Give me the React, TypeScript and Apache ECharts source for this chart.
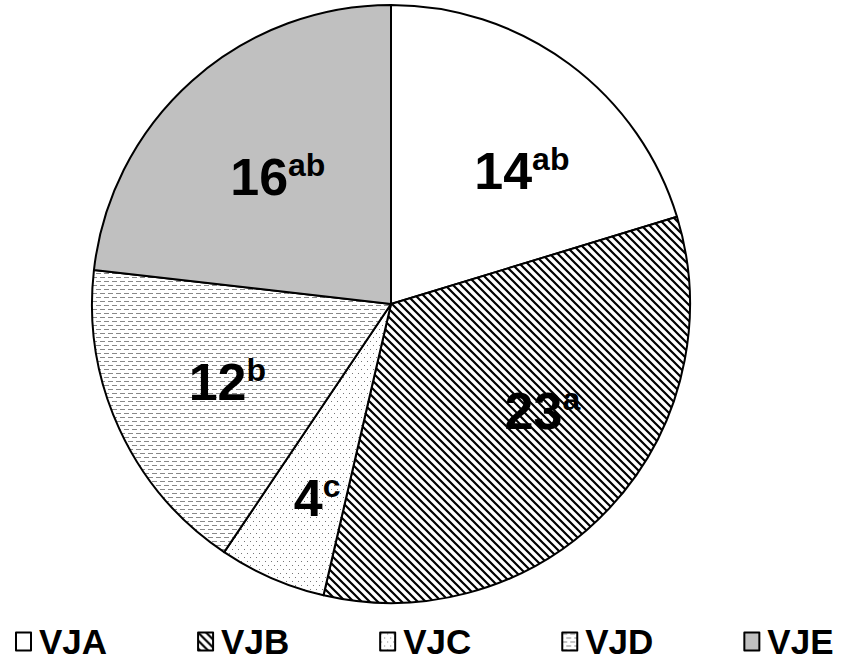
import React, { useEffect, useRef } from "react";
import * as echarts from "echarts";

const categories = ["VJA", "VJB", "VJC", "VJD", "VJE"];
const values = [14, 23, 4, 12, 16];
const letters = ["ab", "a", "c", "b", "ab"];
const labelOffsets: [number, number][] = [[19, 18], [14, -21], [1, 22], [7, -1], [12, 13]];

function makeCanvas(w: number, h: number, draw: (c: CanvasRenderingContext2D) => void) {
  const cv = document.createElement("canvas");
  cv.width = w;
  cv.height = h;
  const ctx = cv.getContext("2d")!;
  ctx.fillStyle = "#ffffff";
  ctx.fillRect(0, 0, w, h);
  draw(ctx);
  return cv;
}

const FONT = "Liberation Sans, Arial, sans-serif";

export default function App() {
  const ref = useRef<HTMLDivElement>(null);
  useEffect(() => {
    if (!ref.current) return;
    const chart = echarts.init(ref.current, null, { renderer: "svg" });
    const hatch = makeCanvas(8, 8, (c) => {
      c.strokeStyle = "#000";
      c.lineWidth = 2.2;
      c.beginPath();
      c.moveTo(-2, -2); c.lineTo(10, 10);
      c.moveTo(-6, 2); c.lineTo(2, 10);
      c.moveTo(6, -2); c.lineTo(14, 6);
      c.stroke();
    });
    const dots = makeCanvas(6, 8, (c) => {
      c.fillStyle = "#777";
      c.fillRect(1, 1, 1, 1);
      c.fillRect(4, 5, 1, 1);
    });
    const dashes = makeCanvas(8, 8, (c) => {
      c.fillStyle = "#888";
      c.fillRect(0, 1, 5, 1);
      c.fillRect(4, 5, 4, 1);
      c.fillRect(0, 5, 1, 1);
    });
    const fills: any[] = [
      "#ffffff",
      { image: hatch, repeat: "repeat" },
      { image: dots, repeat: "repeat" },
      { image: dashes, repeat: "repeat" },
      "#c0c0c0",
    ];
    const center = [391, 304];
    chart.setOption({
      animation: false,
      legend: {
        data: categories,
        bottom: 4,
        left: 15,
        width: 830,
        padding: 0,
        itemWidth: 15,
        itemHeight: 18,
        itemGap: 90,
        textStyle: { fontSize: 35, fontWeight: "bold", color: "#000", fontFamily: FONT, padding: [0, 0, 0, 3] },
        icon: "rect",
      },
      series: [
        {
          type: "pie",
          center,
          radius: [0, 299],
          startAngle: 90,
          clockwise: true,
          label: { show: false },
          labelLine: { show: false },
          emphasis: { disabled: true },
          itemStyle: { borderColor: "#000", borderWidth: 2 },
          data: categories.map((n, i) => ({ name: n, value: values[i], itemStyle: { color: fills[i] } })),
        },
        {
          type: "pie",
          center,
          radius: [0, 370],
          startAngle: 90,
          clockwise: true,
          silent: true,
          legendHoverLink: false,
          z: 5,
          itemStyle: { color: "rgba(0,0,0,0)", borderWidth: 0 },
          labelLine: { show: false },
          label: {
            show: true,
            position: "inside",
            color: "#000",
            fontFamily: FONT,
            fontWeight: "bold",
            rich: {
              v: { fontSize: 52, fontWeight: "bold", color: "#000", lineHeight: 56, fontFamily: FONT },
              s: { fontSize: 32, fontWeight: "bold", color: "#000", lineHeight: 56, padding: [0, 0, 24, 0], fontFamily: FONT },
            },
          },
          data: categories.map((n, i) => ({
            name: n,
            value: values[i],
            label: { formatter: `{v|${values[i]}}{s|${letters[i]}}`, offset: labelOffsets[i] },
          })),
        },
      ],
    });
    return () => chart.dispose();
  }, []);
  return <div ref={ref} style={{ position: "fixed", left: 0, top: 0, width: 845, height: 663, background: "#fff" }} />;
}
